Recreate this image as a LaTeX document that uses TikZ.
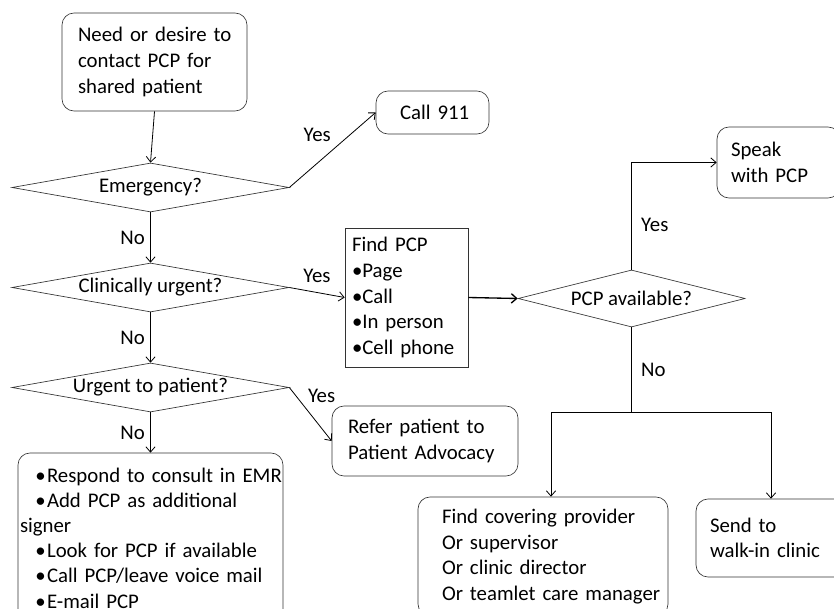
\documentclass[tikz,border=0pt]{standalone}
\usepackage{fontspec}
\setmainfont{Carlito}
\usetikzlibrary{
  positioning,
  shapes.geometric,
  arrows.meta
}

\begin{document}
\begin{tikzpicture}[
    x=0.75pt, y=-0.75pt,
    font=\fontsize{15.6}{19.2}\selectfont,
    >={Straight Barb[length=4pt,width=7pt]},
    line/.style={->, draw=black, line width=0.6pt},
    box/.style={draw=black!80, line width=0.5pt, rounded corners=9pt,
      align=left, inner ysep=0pt},
    plainbox/.style={box, rounded corners=0pt},
    decision/.style={diamond, draw=black!80, line width=0.5pt, aspect=6,
      inner sep=0pt, minimum width=207.75pt, minimum height=36.75pt},
    lbl/.style={font=\fontsize{15.6}{17}\selectfont, inner sep=1pt}
    ]

\useasboundingbox (0,0) rectangle (834,609);
\clip (0,0) rectangle (834,609);

% left column
\node[box, minimum height=73.5pt, text width=114.75pt, inner xsep=12pt] (start) at (154.5,62)
  {\mbox{Need or desire to}\\contact PCP for\\shared patient};
\node[decision] (emerg) at (150.5,187.5) {Emergency?};
\node[decision] (clinic) at (150.5,287.5) {Clinically urgent?};
\node[decision] (urgent) at (150.5,387.5) {Urgent to patient?};
\node[box, minimum height=127.5pt, text width=195.75pt, inner xsep=1.5pt,
  font=\fontsize{15.6}{18.9}\selectfont] (todo) at (150.5,538)
  {\hspace*{11.5pt}\mbox{\textbullet\hspace{1pt}Respond to consult in EMR}\\
   \hspace*{11.5pt}\textbullet\hspace{1pt}Add PCP as additional\\
   signer\\
   \hspace*{11.5pt}\textbullet\hspace{1pt}Look for PCP if available\\
   \hspace*{11.5pt}\textbullet\hspace{1pt}Call PCP/leave voice mail\\
   \hspace*{11.5pt}\textbullet\hspace{1pt}E-mail PCP};

% middle
\node[box, minimum height=32.25pt, text width=48.75pt, inner xsep=18pt] (call) at (432.5,112.5) {\mbox{Call 911}};
\node[plainbox, minimum height=104.25pt, text width=81.75pt, inner xsep=5.25pt] (findpcp) at (406.5,297.5)
  {Find PCP\\\textbullet Page\\\textbullet Call\\\textbullet In person\\\textbullet Cell phone};
\node[box, minimum height=52.5pt, text width=115.5pt, inner xsep=12pt] (refer) at (425,441)
  {Refer patient to\\Patient Advocacy};

% right
\node[decision, aspect=4, minimum width=170.25pt, minimum height=42.75pt] (avail) at (631.5,298.5) {PCP available?};
\node[box, minimum height=53.25pt, text width=71.25pt, inner xsep=10.5pt] (speak) at (778.5,162.5)
  {Speak\\with PCP};
\node[box, minimum height=89.25pt, text width=151.5pt, inner xsep=18pt] (cover) at (543,556.5)
  {Find covering provider\\Or supervisor\\Or clinic director\\\mbox{Or teamlet care manager}};
\node[box, minimum height=58.5pt, text width=91.5pt, inner xsep=10.5pt] (walkin) at (771,538)
  {Send to\\walk-in clinic};
\coordinate (split) at (631.5,412);

% connectors
\draw[line] (start.south) -- (emerg.north);
\draw[line] (emerg.east) -- (call.west) node[lbl, midway, above left=5pt and 0pt] {Yes};
\draw[line] (emerg.south) -- (clinic.north) node[lbl, midway, left=3pt] {No};
\draw[line] (clinic.east) -- (findpcp.west) node[lbl, midway, above=6pt] {Yes};
\draw[line] (clinic.south) -- (urgent.north) node[lbl, midway, left=3pt] {No};
\draw[line] (urgent.east) -- (refer.west) node[lbl, pos=0.15, right=8pt] {Yes};
\draw[line] (urgent.south) -- (todo.north) node[lbl, midway, left=3pt] {No};
\draw[line, line width=1pt] (findpcp.east) -- (avail.west);
\draw[line] (avail.north) |- (speak.west) node[lbl, pos=0.21, right=6pt] {Yes};
\draw[line width=0.6pt] (avail.south) -- (split) node[lbl, midway, right=6pt] {No};
\draw[line] (split) -| ([xshift=6pt]cover.north);
\draw[line] (split) -| (walkin.north);
\end{tikzpicture}
\end{document}
